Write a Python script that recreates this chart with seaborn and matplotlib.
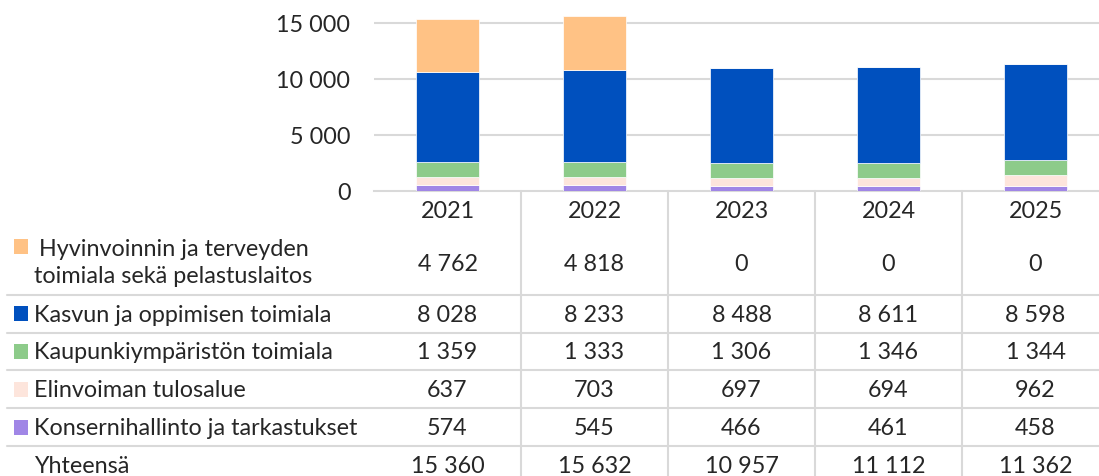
import matplotlib
matplotlib.use("Agg")
import matplotlib.pyplot as plt
import matplotlib.transforms as mtransforms
from matplotlib.lines import Line2D
from matplotlib.patches import Rectangle
import seaborn as sns

# Data
years = ["2021", "2022", "2023", "2024", "2025"]
hyvinvointi = [4762, 4818, 0, 0, 0]
kasvu = [8028, 8233, 8488, 8611, 8598]
kaupunki = [1359, 1333, 1306, 1346, 1344]
elinvoima = [637, 703, 697, 694, 962]
konserni = [574, 545, 466, 461, 458]

series_labels = [
    "Hyvinvoinnin ja terveyden\ntoimiala sekä pelastuslaitos",
    "Kasvun ja oppimisen toimiala",
    "Kaupunkiympäristön toimiala",
    "Elinvoiman tulosalue",
    "Konsernihallinto ja tarkastukset",
]
total_label = "Yhteensä"
y_ticks = [0, 5000, 10000, 15000]

colors = ["#FFC285", "#0050BE", "#8DCB8A", "#FDE5DC", "#A086E6"]
grid_col = "#D9D9D9"

W, H = 1099, 477
FS = 16.8

sns.set_theme(style="white")
plt.rcParams["font.family"] = ["Lato", "DejaVu Sans"]


def fmt(v):
    return f"{v:,.0f}".replace(",", " ")


fig = plt.figure(figsize=(W / 100, H / 100), dpi=100)
# plot area in pixels: x 374..1109, y 0..192 (from top)
ax = fig.add_axes([374 / W, (H - 192) / H, 735 / W, 192 / H])

# stacked bars, bottom -> top
stack = [konserni, elinvoima, kaupunki, kasvu, hyvinvointi]
stack_cols = [colors[4], colors[3], colors[2], colors[1], colors[0]]
bottom = [0] * len(years)
for vals, col in zip(stack, stack_cols):
    sns.barplot(x=years, y=vals, bottom=bottom, color=col, width=0.43,
                saturation=1, edgecolor="white", linewidth=0.5, ax=ax, zorder=3)
    bottom = [b + v for b, v in zip(bottom, vals)]

ax.set_xlim(-0.5, len(years) - 0.5)
ax.set_ylim(0, 192 * 5000 / 56)
ax.set_yticks(y_ticks)
ax.set_yticklabels([fmt(t) for t in y_ticks], fontsize=FS)
ax.tick_params(axis="y", length=0, pad=17)
ax.set_xticks([])
ax.set_xlabel("")
ax.set_ylabel("")
for t in y_ticks[1:]:
    ax.axhline(t, color=grid_col, lw=1.5, zorder=1)
for s in ["top", "right", "left"]:
    ax.spines[s].set_visible(False)
ax.spines["bottom"].set_color(grid_col)
ax.spines["bottom"].set_linewidth(1.5)
ax.patch.set_alpha(0)

# data table below the chart
tr = mtransforms.blended_transform_factory(ax.transData, fig.transFigure)


def fy(ypx):
    return 1 - ypx / H


# vertical separators
for i in range(len(years) - 1):
    fig.add_artist(Line2D([i + 0.5, i + 0.5], [fy(192), fy(H)], transform=tr,
                          color=grid_col, lw=1.5))
# horizontal separators
for ypx in [296, 334, 371, 409, 447]:
    fig.add_artist(Line2D([7 / W, 1.0], [fy(ypx), fy(ypx)],
                          transform=fig.transFigure, color=grid_col, lw=1.5))

# year header
for i, yr in enumerate(years):
    fig.text(i, fy(218), yr, transform=tr, ha="center", va="baseline", fontsize=FS)

row_values = [hyvinvointi, kasvu, kaupunki, elinvoima, konserni]
row_base = [271, 322, 359, 397, 435]
for vals, yb in zip(row_values, row_base):
    for i, v in enumerate(vals):
        fig.text(i, fy(yb), fmt(v), transform=tr, ha="center", va="baseline", fontsize=FS)

totals = [sum(c) for c in zip(*row_values)]
for i, v in enumerate(totals):
    fig.text(i, fy(473), fmt(v), transform=tr, ha="center", va="baseline", fontsize=FS)

# row labels with colour keys
fig.text(39 / W, fy(256), "Hyvinvoinnin ja terveyden", ha="left", va="baseline", fontsize=FS)
fig.text(34 / W, fy(283), "toimiala sekä pelastuslaitos", ha="left", va="baseline", fontsize=FS)
key_tops = [240, 307, 345, 383, 421]
for lab, yb in zip(series_labels[1:], row_base[1:]):
    fig.text(34 / W, fy(yb), lab, ha="left", va="baseline", fontsize=FS)
for col, kt in zip(colors, key_tops):
    fig.add_artist(Rectangle((14 / W, fy(kt + 14.5)), 14.5 / W, 14.5 / H,
                             transform=fig.transFigure, color=col, lw=0))
fig.text(34 / W, fy(473), total_label, ha="left", va="baseline", fontsize=FS)

fig.savefig("out.png", dpi=100)
